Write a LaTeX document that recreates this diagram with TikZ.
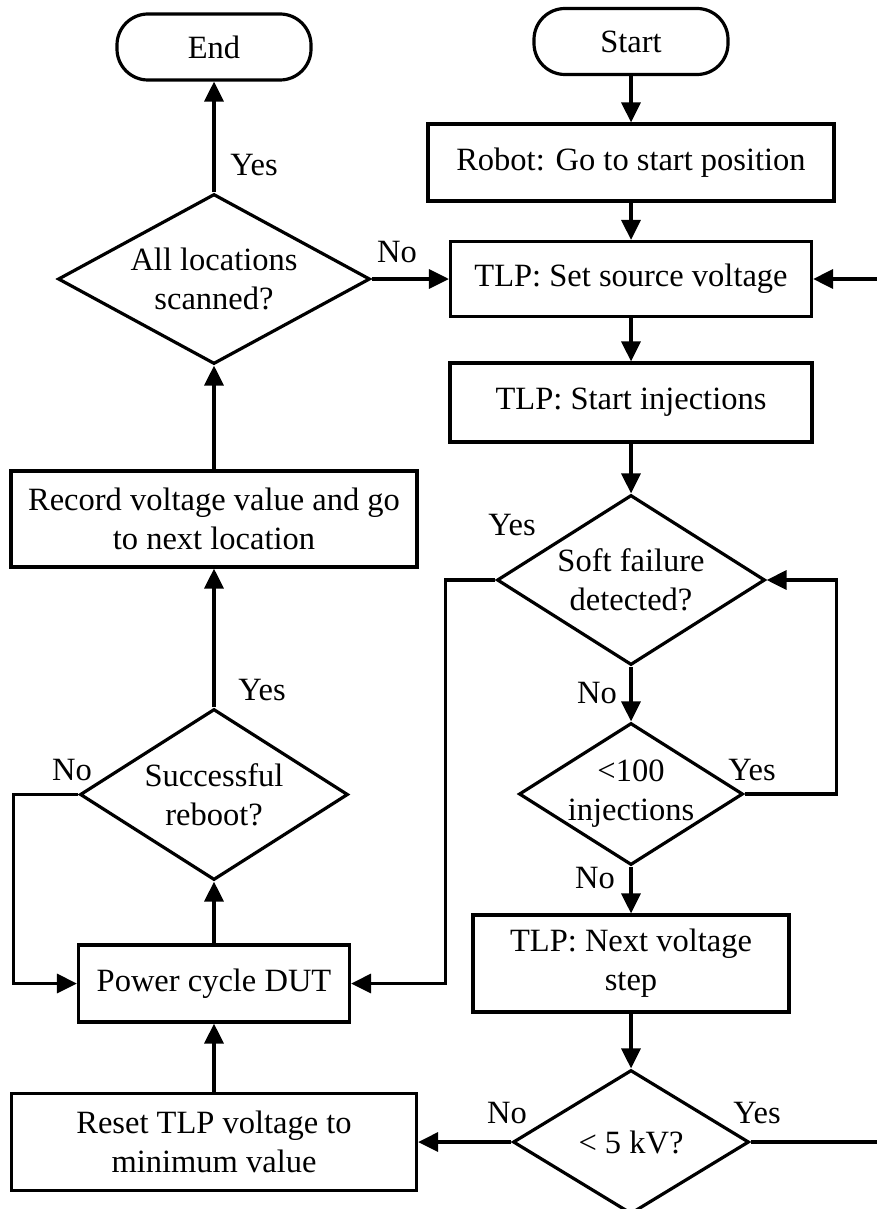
\documentclass[tikz,border=0pt]{standalone}
\usepackage{fontspec}
\setmainfont{Liberation Serif}
\usetikzlibrary{shapes.geometric,arrows.meta}
\begin{document}
\begin{tikzpicture}[x=1pt, y=-1pt, line width=3.2pt, >={Triangle[length=20pt,width=19pt]},
  every node/.style = {font=\fontsize{32.5}{39}\selectfont, align=center, inner sep=0pt},
  box/.style 2 args = {draw, rectangle, minimum width=#1, minimum height=#2},
  term/.style = {draw, rectangle, rounded corners=31pt, minimum width=194, minimum height=66},
  dec/.style 2 args = {draw, diamond, minimum width=#1, minimum height=#2}]
  \useasboundingbox (0,0) rectangle (877,1209);
  \clip (0,0) rectangle (877,1209);
  % right column
  \node[term] (start) at (631,41.5) {Start};
  \node[box={406}{77}] (robot) at (631,162.5) {Robot: Go to start position};
  \node[box={361}{75}] (volt) at (631,279) {TLP: Set source voltage};
  \node[box={362}{79}] (inject) at (631,402.5) {TLP: Start injections};
  \node[dec={268}{170}, label={center:Soft failure\\detected?}] (soft) at (631,580) {};
  \node[dec={224}{142}, label={center:<100\\injections}] (count) at (631,794) {};
  \node[box={316}{97}] (next) at (631,963.5) {TLP: Next voltage\\step};
  \node[dec={236}{144}, label={center:< 5 kV?}] (kv) at (631,1142) {};
  % left column
  \node[term] (end) at (214,47) {End};
  \node[dec={312}{170}, label={center:All locations\\scanned?}] (scan) at (214,279) {};
  \node[box={406}{96}] (record) at (214,519) {Record voltage value and go\\to next location};
  \node[dec={268}{171}, label={center:Successful\\reboot?}] (reboot) at (214,794.5) {};
  \node[box={271}{77}] (power) at (214,983.5) {Power cycle DUT};
  \node[box={405}{97}] (reset) at (214,1142) {Reset TLP voltage to\\minimum value};
  % answers
  \node (yend) at (254,165) {Yes};
  \node (nscan) at (397,252) {No};
  \node (ysoft) at (512,525) {Yes};
  \node (nsoft) at (597,693) {No};
  \node (ycount) at (752,770) {Yes};
  \node (ncount) at (595,878) {No};
  \node (ykv) at (757,1113) {Yes};
  \node (nkv) at (507,1113) {No};
  \node (yreboot) at (262,690) {Yes};
  \node (nreboot) at (72,770) {No};
  % connectors
  \draw[->] (start) -- (robot);
  \draw[->] (robot) -- (volt);
  \draw[->] (volt) -- (inject);
  \draw[->] (inject) -- (soft);
  \draw[->] (soft) -- (count);
  \draw[->] (count) -- (next);
  \draw[->] (next) -- (kv);
  \draw[->] (kv.west) -- (reset.east);
  \draw[->] (reset) -- (power);
  \draw[->] (power) -- (reboot);
  \draw[->] (reboot) -- (record);
  \draw[->] (record) -- (scan);
  \draw[->] (scan) -- (end);
  \draw[->] (scan.east) -- (volt.west);
  \draw[->] (soft.west) -- ++(-50,0) |- (power.east);
  \draw[->] (count.east) -- ++(92,0) |- (soft.east);
  \draw[->] (reboot.west) -- ++(-65,0) |- (power.west);
  \draw[->] (kv.east) -- ++(150,0) |- (volt.east);
\end{tikzpicture}
\end{document}
